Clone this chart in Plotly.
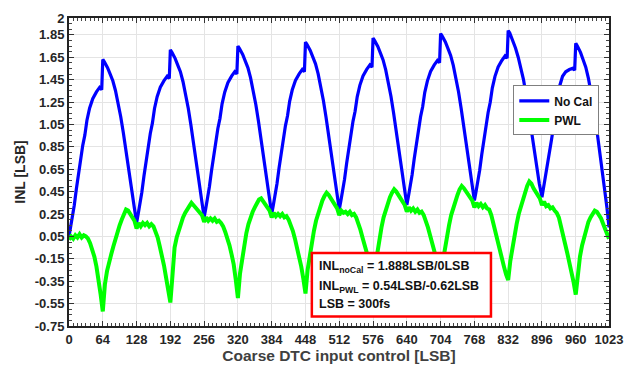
import plotly.graph_objects as go

# ---- data ----
blue_x = [0, 3, 6, 10, 14, 18, 22, 26, 30, 34, 39, 45, 52, 58, 62, 64, 67, 73, 78, 83, 88, 93, 98, 103, 108, 113, 118, 123,
          128, 131, 134, 138, 142, 146, 150, 154, 158, 162, 167, 173, 180, 186, 190, 192, 195, 201, 206, 211, 216, 221, 226, 231, 236, 241, 246, 251,
          256, 259, 262, 266, 270, 274, 278, 282, 286, 290, 295, 301, 308, 314, 318, 320, 323, 329, 334, 339, 344, 349, 354, 359, 364, 369, 374, 379,
          384, 387, 390, 394, 398, 402, 406, 410, 414, 418, 423, 429, 436, 442, 446, 448, 451, 457, 462, 467, 472, 477, 482, 487, 492, 497, 502, 507,
          512, 515, 518, 522, 526, 530, 534, 538, 542, 546, 551, 557, 564, 570, 574, 576, 579, 585, 590, 595, 600, 605, 610, 615, 620, 625, 630, 635,
          640, 643, 646, 650, 654, 658, 662, 666, 670, 674, 679, 685, 692, 698, 702, 704, 707, 713, 718, 723, 728, 733, 738, 743, 748, 753, 758, 763,
          768, 771, 774, 778, 782, 786, 790, 794, 798, 802, 807, 813, 820, 826, 830, 832, 835, 841, 846, 851, 856, 861, 866, 871, 876, 881, 886, 891,
          896, 899, 902, 906, 910, 914, 918, 922, 926, 930, 935, 941, 948, 954, 958, 960, 963, 969, 974, 979, 984, 989, 994, 999, 1004, 1009, 1014, 1019, 1023]

blue_y = [0.05, 0.130, 0.210, 0.329, 0.476, 0.609, 0.742, 0.861, 0.954, 1.087, 1.194, 1.280, 1.340, 1.380, 1.360, 1.63,
          1.608, 1.557, 1.499, 1.440, 1.353, 1.250, 1.119, 0.973, 0.827, 0.652, 0.491, 0.331,
          0.17, 0.249, 0.327, 0.445, 0.589, 0.720, 0.851, 0.969, 1.061, 1.192, 1.297, 1.382, 1.441, 1.48, 1.460, 1.715,
          1.693, 1.640, 1.580, 1.521, 1.431, 1.326, 1.192, 1.042, 0.893, 0.713, 0.549, 0.384,
          0.22, 0.298, 0.376, 0.493, 0.636, 0.766, 0.896, 1.013, 1.104, 1.234, 1.338, 1.423, 1.481, 1.52, 1.501, 1.75,
          1.728, 1.675, 1.615, 1.555, 1.465, 1.360, 1.225, 1.075, 0.925, 0.745, 0.580, 0.415,
          0.25, 0.327, 0.405, 0.521, 0.663, 0.792, 0.921, 1.037, 1.127, 1.256, 1.359, 1.443, 1.501, 1.54, 1.521, 1.785,
          1.763, 1.710, 1.650, 1.591, 1.501, 1.396, 1.262, 1.112, 0.963, 0.783, 0.619, 0.454,
          0.29, 0.367, 0.445, 0.561, 0.703, 0.832, 0.961, 1.077, 1.167, 1.296, 1.399, 1.483, 1.541, 1.58, 1.561, 1.82,
          1.798, 1.746, 1.686, 1.626, 1.537, 1.433, 1.299, 1.150, 1.001, 0.822, 0.658, 0.494,
          0.33, 0.407, 0.485, 0.601, 0.743, 0.872, 1.001, 1.117, 1.207, 1.336, 1.439, 1.523, 1.581, 1.62, 1.601, 1.86,
          1.838, 1.786, 1.726, 1.666, 1.577, 1.473, 1.339, 1.190, 1.041, 0.862, 0.698, 0.534,
          0.37, 0.447, 0.525, 0.641, 0.783, 0.912, 1.041, 1.157, 1.247, 1.376, 1.479, 1.563, 1.621, 1.66, 1.641, 1.888,
          1.866, 1.80, 1.73, 1.65, 1.56, 1.45, 1.31, 1.15, 0.99, 0.82, 0.66, 0.52,
          0.40, 0.48, 0.56, 0.67, 0.80, 0.91, 1.03, 1.16, 1.30, 1.40, 1.48, 1.52, 1.54, 1.55, 1.535, 1.775,
          1.750, 1.693, 1.627, 1.561, 1.462, 1.347, 1.199, 1.035, 0.870, 0.673, 0.492, 0.311, 0.13]

green_x = list(range(0, 1021, 4)) + [1023]
green_y = [0.02, 0.05, 0.03, 0.06, 0.04, 0.07, 0.04, 0.06, 0.05, 0.03, -0.01, -0.06, -0.13, -0.22, -0.33, -0.47,
           -0.62, -0.38, -0.26, -0.17, -0.11, -0.04, 0.03, 0.10, 0.15, 0.20, 0.24, 0.29, 0.28, 0.25, 0.23, 0.19,
           0.12, 0.17, 0.14, 0.17, 0.15, 0.17, 0.14, 0.16, 0.14, 0.09, 0.04, -0.04, -0.12, -0.21, -0.32, -0.43,
           -0.54, -0.30, -0.05, 0.04, 0.11, 0.17, 0.22, 0.26, 0.30, 0.32, 0.35, 0.33, 0.31, 0.29, 0.27, 0.24,
           0.18, 0.22, 0.19, 0.21, 0.19, 0.21, 0.18, 0.19, 0.17, 0.14, 0.09, 0.04, -0.03, -0.11, -0.20, -0.34,
           -0.50, -0.28, -0.14, -0.03, 0.08, 0.16, 0.22, 0.27, 0.31, 0.35, 0.38, 0.39, 0.36, 0.34, 0.31, 0.28,
           0.22, 0.26, 0.23, 0.25, 0.23, 0.25, 0.22, 0.23, 0.20, 0.16, 0.10, 0.03, -0.05, -0.13, -0.22, -0.33,
           -0.46, -0.25, -0.12, 0.0, 0.10, 0.19, 0.26, 0.32, 0.37, 0.41, 0.44, 0.42, 0.39, 0.36, 0.33, 0.30,
           0.24, 0.28, 0.26, 0.27, 0.25, 0.27, 0.24, 0.25, 0.22, 0.17, 0.11, 0.04, -0.02, -0.08, -0.16, -0.28,
           -0.43, -0.22, -0.09, 0.03, 0.13, 0.22, 0.29, 0.35, 0.40, 0.44, 0.47, 0.45, 0.42, 0.39, 0.36, 0.33,
           0.27, 0.31, 0.28, 0.30, 0.27, 0.29, 0.26, 0.27, 0.24, 0.19, 0.13, 0.06, 0.0, -0.08, -0.16, -0.27,
           -0.40, -0.18, -0.06, 0.05, 0.15, 0.24, 0.31, 0.37, 0.42, 0.47, 0.50, 0.48, 0.45, 0.42, 0.40, 0.37,
           0.31, 0.35, 0.32, 0.34, 0.31, 0.33, 0.30, 0.29, 0.24, 0.16, 0.07, -0.01, -0.08, -0.15, -0.22, -0.29,
           -0.34, -0.17, -0.05, 0.06, 0.16, 0.25, 0.32, 0.39, 0.45, 0.50, 0.54, 0.52, 0.48, 0.45, 0.42, 0.39,
           0.33, 0.36, 0.32, 0.33, 0.30, 0.31, 0.28, 0.26, 0.22, 0.15, 0.07, -0.02, -0.10, -0.18, -0.26, -0.36,
           -0.47, -0.25, -0.13, -0.03, 0.05, 0.12, 0.18, 0.22, 0.26, 0.28, 0.27, 0.24, 0.21, 0.16, 0.11, 0.06,
           0.03]

x_ticks = [0, 64, 128, 192, 256, 320, 384, 448, 512, 576, 640, 704, 768, 832, 896, 960, 1023]
y_ticks = [-0.75, -0.55, -0.35, -0.15, 0.05, 0.25, 0.45, 0.65, 0.85, 1.05, 1.25, 1.45, 1.65, 1.85, 2]
y_tick_text = ["-0.75", "-0.55", "-0.35", "-0.15", "0.05", "0.25", "0.45", "0.65", "0.85",
               "1.05", "1.25", "1.45", "1.65", "1.85", "2"]

series_names = ["No Cal", "PWL"]
annotation_lines = ["INL<sub>noCal</sub> = 1.888LSB/0LSB",
                    "INL<sub>PWL</sub> = 0.54LSB/-0.62LSB",
                    "LSB = 300fs"]

FONT = "Liberation Sans, Arial, sans-serif"

fig = go.Figure()
fig.add_trace(go.Scatter(x=blue_x, y=blue_y, mode="lines", name=series_names[0],
                         line=dict(color="#0000ff", width=3.2)))
fig.add_trace(go.Scatter(x=green_x, y=green_y, mode="lines", name=series_names[1],
                         line=dict(color="#00ff00", width=4)))

axis_common = dict(
    showline=True, linewidth=2, linecolor="#222222", mirror="allticks",
    ticks="inside", ticklen=5, tickwidth=1, tickcolor="#333333",
    showgrid=True, gridcolor="#e4e4e4", gridwidth=1, zeroline=False,
    tickfont=dict(family=FONT, size=13, color="#262626", weight="bold"),
)

fig.update_xaxes(
    range=[0, 1023], tickmode="array", tickvals=x_ticks, ticktext=[str(v) for v in x_ticks],
    minor=dict(tickmode="linear", tick0=0, dtick=8, ticks="inside", ticklen=3, tickcolor="#444444", showgrid=False),
    title=dict(text="Coarse DTC input control [LSB]", standoff=2,
               font=dict(family=FONT, size=15.5, color="#404040", weight="bold")),
    **axis_common,
)
fig.update_yaxes(
    range=[-0.75, 2], tickmode="array", tickvals=y_ticks, ticktext=y_tick_text,
    minor=dict(tickmode="linear", tick0=-0.75, dtick=0.05, ticks="inside", ticklen=3, tickcolor="#444444", showgrid=False),
    title=dict(text="INL [LSB]", standoff=6,
               font=dict(family=FONT, size=14, color="#262626", weight="bold")),
    **axis_common,
)

# red-framed info box
fig.add_shape(type="rect", xref="paper", yref="paper",
              x0=0.4497, x1=0.7814, y0=0.031, y1=0.2369,
              line=dict(color="#ff0000", width=2.5), fillcolor="white", layer="above")
line_y = [0.1900, 0.1265, 0.0700]
for txt, yy in zip(annotation_lines, line_y):
    fig.add_annotation(
        xref="paper", yref="paper", x=0.4586, y=yy, xanchor="left", yanchor="middle",
        text=txt, showarrow=False, align="left",
        font=dict(family=FONT, size=12.5, color="#111111", weight="bold"),
    )

fig.update_layout(
    width=636, height=371,
    margin=dict(l=69, r=27, t=11, b=45),
    paper_bgcolor="white", plot_bgcolor="white",
    showlegend=True,
    legend=dict(x=0.982, y=0.700, xanchor="right", yanchor="middle",
                bgcolor="white", bordercolor="#7f7f7f", borderwidth=1,
                font=dict(family=FONT, size=12, color="#111111", weight="bold"),
                tracegroupgap=0, itemwidth=30),
)

fig.write_html("out.html")
